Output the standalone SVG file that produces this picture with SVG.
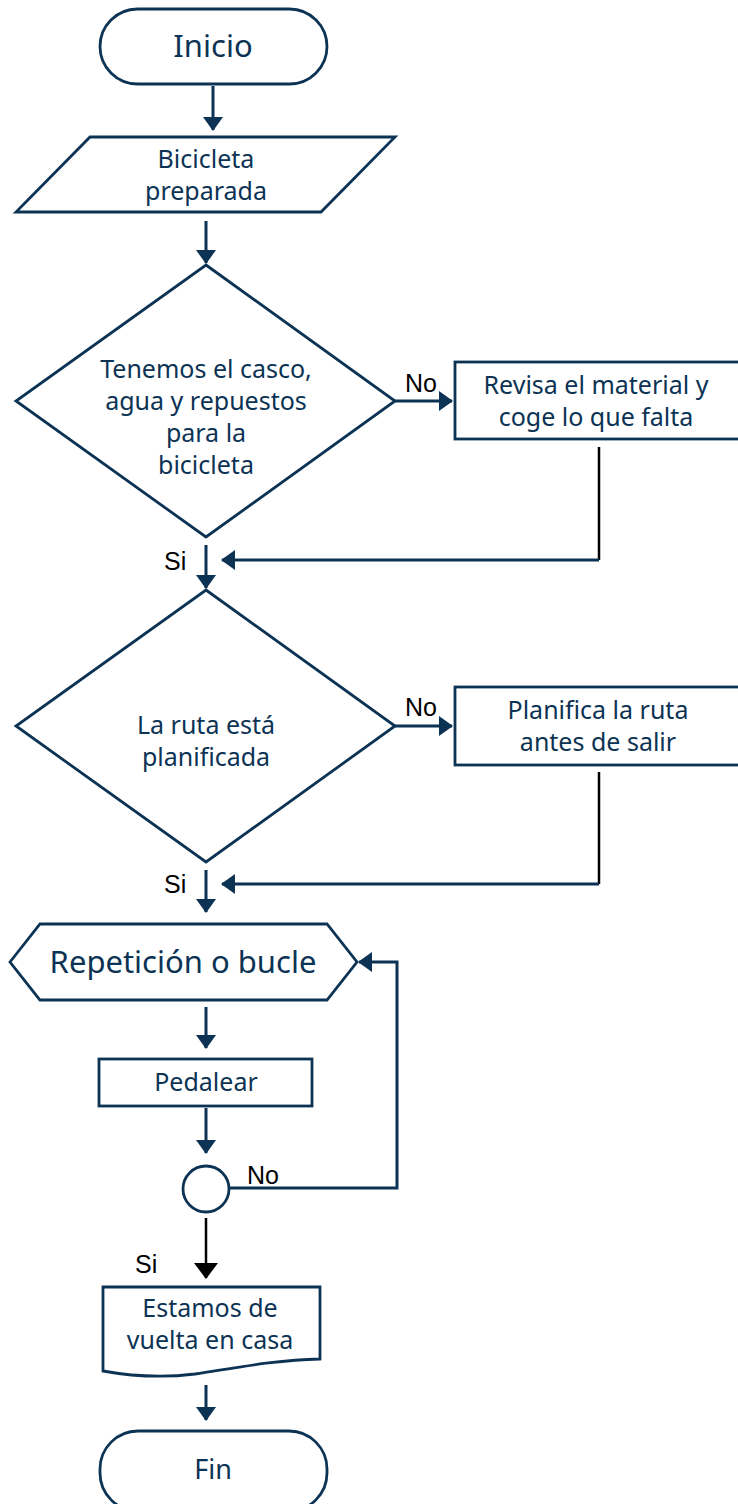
<svg xmlns="http://www.w3.org/2000/svg" width="738" height="1504" viewBox="0 0 738 1504">
<defs>
<marker id="ah" viewBox="0 0 14 20" refX="13" refY="10" markerWidth="14" markerHeight="20" markerUnits="userSpaceOnUse" orient="auto">
<path d="M0,0 L14,10 L0,20 z" fill="#0c3354"/>
</marker>
<marker id="ahk" viewBox="0 0 16 24" refX="15" refY="12" markerWidth="16" markerHeight="24" markerUnits="userSpaceOnUse" orient="auto">
<path d="M0,0 L16,12 L0,24 z" fill="#000"/>
</marker>
<style>
.s{fill:#fff;stroke:#0c3354;stroke-width:2.8}
.t{font-family:"Noto Sans","Open Sans",sans-serif;fill:#0c3354;text-anchor:middle;font-size:25px}
.tb{font-size:31px}
.tf{font-size:27px}
.c{fill:none;stroke:#0c3354;stroke-width:3}
.ck{fill:none;stroke:#000;stroke-width:2.5}
.l{font-family:"Liberation Sans",Arial,sans-serif;fill:#000;font-size:25px}
</style>
</defs>
<g id="connectors">
<line class="c" x1="213" y1="86" x2="213" y2="130" marker-end="url(#ah)"/>
<line class="c" x1="206" y1="221" x2="206" y2="263" marker-end="url(#ah)"/>
<line class="c" x1="395" y1="401" x2="452" y2="401" marker-end="url(#ah)"/>
<polyline class="ck" points="599,447 599,560"/>
<polyline class="c" points="599,560 222,560" marker-end="url(#ah)"/>
<line class="c" x1="206" y1="545" x2="206" y2="588" marker-end="url(#ah)"/>
<line class="c" x1="395" y1="726" x2="452" y2="726" marker-end="url(#ah)"/>
<polyline class="ck" points="599,772 599,884"/>
<polyline class="c" points="599,884 222,884" marker-end="url(#ah)"/>
<line class="c" x1="206" y1="870" x2="206" y2="912" marker-end="url(#ah)"/>
<line class="c" x1="206" y1="1007" x2="206" y2="1048" marker-end="url(#ah)"/>
<line class="c" x1="206" y1="1108" x2="206" y2="1153" marker-end="url(#ah)"/>
<polyline class="c" points="229,1188 397,1188 397,962 359,962" marker-end="url(#ah)"/>
<line class="ck" x1="206" y1="1218" x2="206" y2="1278" marker-end="url(#ahk)"/>
<line class="c" x1="206" y1="1385" x2="206" y2="1420" marker-end="url(#ah)"/>
<text class="l" x="405" y="392">No</text>
<text class="l" x="405" y="716">No</text>
<text class="l" x="164" y="570">Si</text>
<text class="l" x="164" y="893">Si</text>
<text class="l" x="247" y="1184">No</text>
<text class="l" x="135" y="1273">Si</text>
</g>
<g id="inicio">
<rect class="s" x="100" y="9" width="227" height="75" rx="37.5"/>
<text class="t tb" x="213" y="57">Inicio</text>
</g>
<g id="bicicleta">
<polygon class="s" points="90,137 395,137 321,212 16,212"/>
<text class="t" x="206" y="168">Bicicleta</text>
<text class="t" x="206" y="200">preparada</text>
</g>
<g id="decision1">
<polygon class="s" points="206,265 395,401 206,537 16,401"/>
<text class="t" x="206" y="378">Tenemos el casco,</text>
<text class="t" x="206" y="410">agua y repuestos</text>
<text class="t" x="206" y="442">para la</text>
<text class="t" x="206" y="474">bicicleta</text>
</g>
<g id="revisa">
<rect class="s" x="455" y="362" width="300" height="77"/>
<text class="t" x="596" y="394">Revisa el material y</text>
<text class="t" x="596" y="426">coge lo que falta</text>
</g>
<g id="decision2">
<polygon class="s" points="206,590 395,726 206,862 16,726"/>
<text class="t" x="206" y="734">La ruta está</text>
<text class="t" x="206" y="766">planificada</text>
</g>
<g id="planifica">
<rect class="s" x="455" y="687" width="300" height="78"/>
<text class="t" x="598" y="719">Planifica la ruta</text>
<text class="t" x="598" y="751">antes de salir</text>
</g>
<g id="bucle">
<polygon class="s" points="10,962 40,924 327,924 357,962 327,1000 40,1000"/>
<text class="t tb" x="183" y="973">Repetición o bucle</text>
</g>
<g id="pedalear">
<rect class="s" x="99" y="1059" width="213" height="47"/>
<text class="t" x="206" y="1091">Pedalear</text>
</g>
<g id="conector">
<circle class="s" cx="206" cy="1189" r="23"/>
</g>
<g id="estamos">
<path class="s" d="M103,1287 H320 V1359 C275,1360 235,1368 195,1374 C155,1379 125,1375 103,1371 Z"/>
<text class="t" x="210" y="1317">Estamos de</text>
<text class="t" x="210" y="1349">vuelta en casa</text>
</g>
<g id="fin">
<rect class="s" x="100" y="1431" width="227" height="80" rx="38"/>
<text class="t tf" x="213" y="1479">Fin</text>
</g>
</svg>
